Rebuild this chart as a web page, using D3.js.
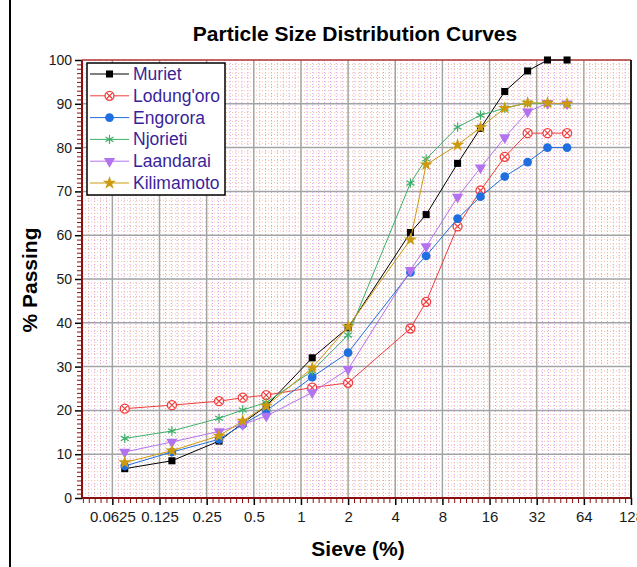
<!DOCTYPE html>
<html>
<head>
<meta charset="utf-8">
<script src="https://cdn.jsdelivr.net/npm/d3@7"></script>
<style>
  body { margin: 0; background: #fff; }
  svg { display: block; font-family: "Liberation Sans", Arial, sans-serif; }
</style>
</head>
<body>
<div id="chart"></div>
<script>
// Sieve sizes (mm) and % passing per site
const sieves = [0.075, 0.15, 0.3, 0.425, 0.6, 1.18, 2, 5, 6.3, 10, 14, 20, 28, 37.5, 50]
const muriet = [6.7, 8.5, 13.0, 17.1, 21.0, 32.0, 38.9, 60.6, 64.7, 76.4, 84.4, 92.8, 97.5, 100, 100]
const lodungoro = [20.4, 21.2, 22.1, 22.9, 23.5, 25.2, 26.3, 38.7, 44.8, 62.0, 70.2, 77.9, 83.3, 83.3, 83.3]
const engorora = [7.3, 10.5, 13.4, 16.8, 19.9, 27.6, 33.2, 51.5, 55.3, 63.8, 68.8, 73.4, 76.7, 80.0, 80.0]
const njorieti = [13.6, 15.3, 18.2, 20.1, 21.8, 29.0, 37.2, 71.9, 77.4, 84.7, 87.4, 89.0, 90.2, 90.0, 90.0]
const laandarai = [10.5, 12.8, 15.2, 16.8, 18.7, 24.1, 29.4, 52.0, 57.4, 68.7, 75.4, 82.3, 88.2, 90.1, 90.0]
const kilimamoto = [8.1, 10.8, 14.2, 17.6, 21.0, 29.7, 39.1, 59.0, 76.1, 80.6, 84.6, 89.0, 90.2, 90.2, 90.0]

const names = ['Muriet', "Lodung'oro", 'Engorora', 'Njorieti', 'Laandarai', 'Kilimamoto']
const xTicks = [0.0625, 0.125, 0.25, 0.5, 1, 2, 4, 8, 16, 32, 64, 128]
const xTickLabels = ['0.0625', '0.125', '0.25', '0.5', '1', '2', '4', '8', '16', '32', '64', '128']
const yTicks = [0, 10, 20, 30, 40, 50, 60, 70, 80, 90, 100]

const series = [
  { name: names[0], values: muriet, color: '#000000', marker: 'square' },
  { name: names[1], values: lodungoro, color: '#f23c3c', marker: 'hatch' },
  { name: names[2], values: engorora, color: '#1f6fe0', marker: 'circle' },
  { name: names[3], values: njorieti, color: '#3cb06a', marker: 'asterisk' },
  { name: names[4], values: laandarai, color: '#b473ee', marker: 'triangle' },
  { name: names[5], values: kilimamoto, color: '#cc9a10', marker: 'star' }
]

// Our canvas
const width = 637,
      height = 567,
      plotLeft = 82,
      plotRight = 631,
      plotTop = 60,
      plotBottom = 498

let svg = d3.select('#chart')
  .append('svg')
  .attr('width', width)
  .attr('height', height)

let x = d3.scaleLog().base(2)
    .domain([0.04, 128])
    .range([plotLeft, plotRight])

let y = d3.scaleLinear()
    .domain([0, 100])
    .range([plotBottom, plotTop])

// frame line on the left
svg.append('line')
    .attr('x1', 10).attr('x2', 10)
    .attr('y1', 0).attr('y2', height)
    .attr('stroke', '#000')
    .attr('stroke-width', 2)

// minor grid (the dotted pink pattern)
let minorX = []
for (let k = -5; k < 8; k++) {
  for (let j = 1; j < 8; j++) {
    let v = Math.pow(2, k + j / 8)
    if (v > 0.04 && v < 128) minorX.push(v)
  }
}
let minorY = d3.range(1, 100).filter(v => v % 10 !== 0)

svg.append('g')
  .selectAll('line')
  .data(minorX)
  .enter()
  .append('line')
    .attr('x1', d => x(d)).attr('x2', d => x(d))
    .attr('y1', plotTop).attr('y2', plotBottom)
    .attr('stroke', '#d99ee8')
    .attr('stroke-width', 1)
    .attr('stroke-dasharray', '1,2')

svg.append('g')
  .selectAll('line')
  .data(minorY)
  .enter()
  .append('line')
    .attr('x1', plotLeft).attr('x2', plotRight)
    .attr('y1', d => y(d)).attr('y2', d => y(d))
    .attr('stroke', '#f4bfa0')
    .attr('stroke-width', 1)
    .attr('stroke-dasharray', '1,2')

// major grid
svg.append('g')
  .selectAll('line')
  .data(xTicks.slice(0, -1))
  .enter()
  .append('line')
    .attr('x1', d => x(d)).attr('x2', d => x(d))
    .attr('y1', plotTop).attr('y2', plotBottom)
    .attr('stroke', '#a3a3a3')
    .attr('stroke-width', 1.5)

svg.append('g')
  .selectAll('line')
  .data(yTicks.slice(1, -1))
  .enter()
  .append('line')
    .attr('x1', plotLeft).attr('x2', plotRight)
    .attr('y1', d => y(d)).attr('y2', d => y(d))
    .attr('stroke', '#a3a3a3')
    .attr('stroke-width', 1.5)

// axes
let xMinorAxis = svg.append('g')
    .attr('transform', `translate(0, ${plotBottom})`)
    .call(d3.axisBottom(x).tickValues(minorX).tickSize(5).tickFormat(''))
xMinorAxis.selectAll('line').attr('stroke', '#8b0f0f')
xMinorAxis.select('.domain').remove()

let yMinorAxis = svg.append('g')
    .attr('transform', `translate(${plotLeft}, 0)`)
    .call(d3.axisLeft(y).tickValues(minorY).tickSize(5).tickFormat(''))
yMinorAxis.selectAll('line').attr('stroke', '#8b0f0f')
yMinorAxis.select('.domain').remove()

let xAxis = svg.append('g')
    .attr('transform', `translate(0, ${plotBottom})`)
    .call(d3.axisBottom(x)
        .tickValues(xTicks)
        .tickSize(7)
        .tickPadding(6)
        .tickFormat((d, i) => xTickLabels[i]))
xAxis.select('.domain').remove()
xAxis.selectAll('line').attr('stroke', '#000').attr('stroke-width', 1.5)
xAxis.selectAll('text')
    .attr('font-size', 15)
    .attr('fill', '#1a1a1a')

let yAxis = svg.append('g')
    .attr('transform', `translate(${plotLeft}, 0)`)
    .call(d3.axisLeft(y)
        .tickValues(yTicks)
        .tickSize(7)
        .tickPadding(3))
yAxis.select('.domain').remove()
yAxis.selectAll('line').attr('stroke', '#000').attr('stroke-width', 1.5)
yAxis.selectAll('text')
    .attr('font-size', 14)
    .attr('fill', '#1a1a1a')

// plot border
svg.append('line')
    .attr('x1', plotLeft).attr('x2', plotRight).attr('y1', plotBottom).attr('y2', plotBottom)
    .attr('stroke', '#8b0f0f').attr('stroke-width', 2)
svg.append('line')
    .attr('x1', plotLeft).attr('x2', plotLeft).attr('y1', plotTop).attr('y2', plotBottom)
    .attr('stroke', '#8b0f0f').attr('stroke-width', 2)
svg.append('line')
    .attr('x1', plotLeft).attr('x2', plotRight).attr('y1', plotTop).attr('y2', plotTop)
    .attr('stroke', '#b03030').attr('stroke-width', 1.5)
svg.append('line')
    .attr('x1', plotRight).attr('x2', plotRight).attr('y1', plotTop).attr('y2', plotBottom)
    .attr('stroke', '#222').attr('stroke-width', 2)

// markers
let drawMarker = (g, type, color) => {
  if (type === 'square') {
    g.append('path').attr('d', d3.symbol(d3.symbolSquare, 50)()).attr('fill', color)
  } else if (type === 'circle') {
    g.append('path').attr('d', d3.symbol(d3.symbolCircle, 60)()).attr('fill', color)
  } else if (type === 'triangle') {
    g.append('path').attr('d', d3.symbol(d3.symbolTriangle, 55)())
      .attr('transform', 'rotate(180)').attr('fill', color)
  } else if (type === 'star') {
    g.append('path').attr('d', d3.symbol(d3.symbolStar, 55)()).attr('fill', color)
  } else if (type === 'asterisk') {
    g.append('path').attr('d', d3.symbol(d3.symbolAsterisk, 60)())
      .attr('fill', 'none').attr('stroke', color).attr('stroke-width', 1.2)
  } else if (type === 'hatch') {
    g.append('circle').attr('r', 4.5).attr('fill', '#fff').attr('stroke', color).attr('stroke-width', 1.3)
    g.append('path').attr('d', d3.symbol(d3.symbolTimes, 25)())
      .attr('fill', 'none').attr('stroke', color).attr('stroke-width', 1.2)
  }
}

let line = d3.line()
    .x((d, i) => x(sieves[i]))
    .y(d => y(d))

series.forEach(s => {
  svg.append('path')
      .datum(s.values)
      .attr('d', line)
      .attr('fill', 'none')
      .attr('stroke', s.color)
      .attr('stroke-width', 1)

  svg.append('g')
    .selectAll('g')
    .data(s.values)
    .enter()
    .append('g')
      .attr('transform', (d, i) => `translate(${x(sieves[i])}, ${y(d)})`)
      .each(function() { drawMarker(d3.select(this), s.marker, s.color) })
})

// legend
let legend = svg.append('g')
legend.append('rect')
    .attr('x', 87).attr('y', 63)
    .attr('width', 138).attr('height', 132)
    .attr('fill', '#fff')
    .attr('stroke', '#000')
    .attr('stroke-width', 1.5)

series.forEach((s, i) => {
  let ly = 74 + i * 21.8
  legend.append('line')
      .attr('x1', 90).attr('x2', 129)
      .attr('y1', ly).attr('y2', ly)
      .attr('stroke', s.color)
      .attr('stroke-width', 1)
  drawMarker(legend.append('g').attr('transform', `translate(109.5, ${ly})`), s.marker, s.color)
  legend.append('text')
      .attr('x', 133)
      .attr('y', ly + 6)
      .attr('font-size', 17.5)
      .attr('fill', '#3a1f9a')
      .text(s.name)
})

// titles
svg.append('text')
    .attr('x', 355).attr('y', 41)
    .attr('text-anchor', 'middle')
    .attr('font-size', 21)
    .attr('font-weight', 'bold')
    .text('Particle Size Distribution Curves')

svg.append('text')
    .attr('x', 358).attr('y', 556)
    .attr('text-anchor', 'middle')
    .attr('font-size', 21)
    .attr('font-weight', 'bold')
    .text('Sieve (%)')

svg.append('text')
    .attr('transform', 'translate(37, 280) rotate(-90)')
    .attr('text-anchor', 'middle')
    .attr('font-size', 21)
    .attr('font-weight', 'bold')
    .text('% Passing')
</script>
</body>
</html>
